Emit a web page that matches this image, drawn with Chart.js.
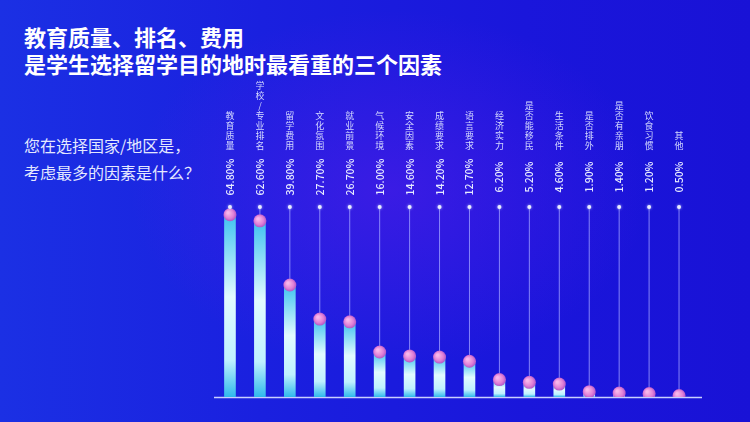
<!DOCTYPE html>
<html>
<head>
<meta charset="utf-8">
<script src="https://cdn.jsdelivr.net/npm/chart.js@4/dist/chart.umd.min.js"></script>
<style>
  html, body { margin: 0; padding: 0; }
  body {
    width: 750px; height: 422px; overflow: hidden; position: relative;
    font-family: "Noto Sans CJK SC", "Noto Sans", sans-serif;
    background:
      radial-gradient(ellipse 260px 180px at 390px 190px, rgba(90, 28, 235, 0.5), rgba(90, 28, 235, 0) 100%),
      linear-gradient(90deg, #1b30e4 0%, #1a20df 35%, #1a16db 70%, #1912d6 100%);
  }
  .title {
    position: absolute; left: 24px; top: 23px;
    color: #ffffff; font-weight: 700; font-size: 22px; line-height: 27px;
  }
  .question {
    position: absolute; left: 24px; top: 132px;
    color: #e4e8ff; font-size: 16px; line-height: 27px;
  }
  #chart { position: absolute; left: 0; top: 0; }
</style>
</head>
<body>
<div class="title">教育质量、排名、费用<br>是学生选择留学目的地时最看重的三个因素</div>
<div class="question">您在选择国家/地区是，<br>考虑最多的因素是什么？</div>
<canvas id="chart" width="750" height="422"></canvas>
<script>
const categories = ["教育质量", "学校/专业排名", "留学费用", "文化氛围", "就业前景", "气候环境", "安全因素", "成绩要求",
    "语言要求", "经济实力", "是否能移民", "生活条件", "是否排外", "是否有亲朋", "饮食习惯", "其他"];
const shares = [64.8, 62.6, 39.8, 27.7, 26.7, 16.0, 14.6, 14.2, 12.7, 6.2, 5.2, 4.6, 1.9, 1.4, 1.2, 0.5];
const yMax = 70;

// bar fill: cyan at the top, pale in the middle, cyan at the base
function barFill(context) {
    const chart = context.chart;
    if (!chart.chartArea) return "#8fe6ff";
    const top = chart.scales.y.getPixelForValue(context.raw);
    const bottom = chart.chartArea.bottom;
    const g = chart.ctx.createLinearGradient(0, top, 0, bottom + 0.01);
    g.addColorStop(0, "#3fc2f0");
    g.addColorStop(0.45, "#e2fbff");
    g.addColorStop(0.8, "#bff1ff");
    g.addColorStop(1, "#2fb9ec");
    return g;
}

// pink ball on top of each bar
function ballFill(context) {
    const chart = context.chart;
    if (!chart.chartArea) return "#e08ad8";
    const x = chart.scales.x.getPixelForValue(context.dataIndex);
    const y = chart.scales.y.getPixelForValue(context.raw);
    const g = chart.ctx.createRadialGradient(x - 2, y - 2, 1, x, y, 7);
    g.addColorStop(0, "#f7b6ea");
    g.addColorStop(0.6, "#e07fd6");
    g.addColorStop(1, "#a94fc6");
    return g;
}

const decorPlugin = {
    id: "decor",
    beforeDatasetsDraw(chart) {
        const ctx = chart.ctx;
        const area = chart.chartArea;
        const dotY = area.top + 7;
        ctx.save();
        // thin stems from the small dot down to the ball
        chart.getDatasetMeta(0).data.forEach(pt => {
            ctx.strokeStyle = "rgba(150, 150, 255, 0.85)";
            ctx.lineWidth = 1;
            ctx.beginPath();
            ctx.moveTo(pt.x, dotY);
            ctx.lineTo(pt.x, pt.y);
            ctx.stroke();
        });
        // baseline
        ctx.strokeStyle = "#c9d0ff";
        ctx.lineWidth = 1.5;
        ctx.beginPath();
        ctx.moveTo(area.left - 1, area.bottom + 0.5);
        ctx.lineTo(area.right + 8, area.bottom + 0.5);
        ctx.stroke();
        ctx.restore();
    },
    afterDatasetsDraw(chart) {
        const ctx = chart.ctx;
        const area = chart.chartArea;
        const dotY = area.top + 7;
        ctx.save();
        chart.getDatasetMeta(0).data.forEach((pt, i) => {
            // small dot
            ctx.fillStyle = "#e8ecff";
            ctx.shadowColor = "rgba(200, 210, 255, 0.9)";
            ctx.shadowBlur = 3;
            ctx.beginPath();
            ctx.arc(pt.x, dotY, 2, 0, Math.PI * 2);
            ctx.fill();
            ctx.shadowBlur = 0;

            // percentage, rotated, reading bottom to top
            ctx.save();
            ctx.translate(pt.x, area.top - 23);
            ctx.rotate(-Math.PI / 2);
            ctx.fillStyle = "#e6eaff";
            ctx.font = "500 10.5px 'Noto Sans CJK SC', 'Noto Sans', sans-serif";
            ctx.textAlign = "center";
            ctx.textBaseline = "middle";
            ctx.fillText(shares[i].toFixed(2) + "%", 0, 0);
            ctx.restore();

            // category name, one character per line, bottom aligned
            const chars = Array.from(categories[i]);
            ctx.fillStyle = "#d4daff";
            ctx.font = "9px 'Noto Sans CJK SC', sans-serif";
            ctx.textAlign = "center";
            ctx.textBaseline = "middle";
            chars.forEach((ch, k) => {
                const y = area.top - 54 - (chars.length - 1 - k) * 10;
                ctx.fillText(ch, pt.x, y);
            });
        });
        ctx.restore();
    }
};

new Chart(document.getElementById("chart"), {
    type: "bar",
    data: {
        labels: categories,
        datasets: [{
            type: "line",
            data: shares,
            showLine: false,
            pointRadius: 6.5,
            pointHoverRadius: 6.5,
            pointBorderWidth: 0,
            pointBackgroundColor: ballFill,
            order: 0
        }, {
            data: shares,
            backgroundColor: barFill,
            borderWidth: 0,
            barThickness: 11,
            order: 1
        }]
    },
    options: {
        responsive: false,
        animation: false,
        events: [],
        layout: { padding: { left: 215, right: 56, top: 200, bottom: 25 } },
        plugins: { legend: { display: false }, tooltip: { enabled: false } },
        scales: {
            x: { display: false, offset: true },
            y: { display: false, min: 0, max: yMax }
        }
    },
    plugins: [decorPlugin]
});
</script>
</body>
</html>
